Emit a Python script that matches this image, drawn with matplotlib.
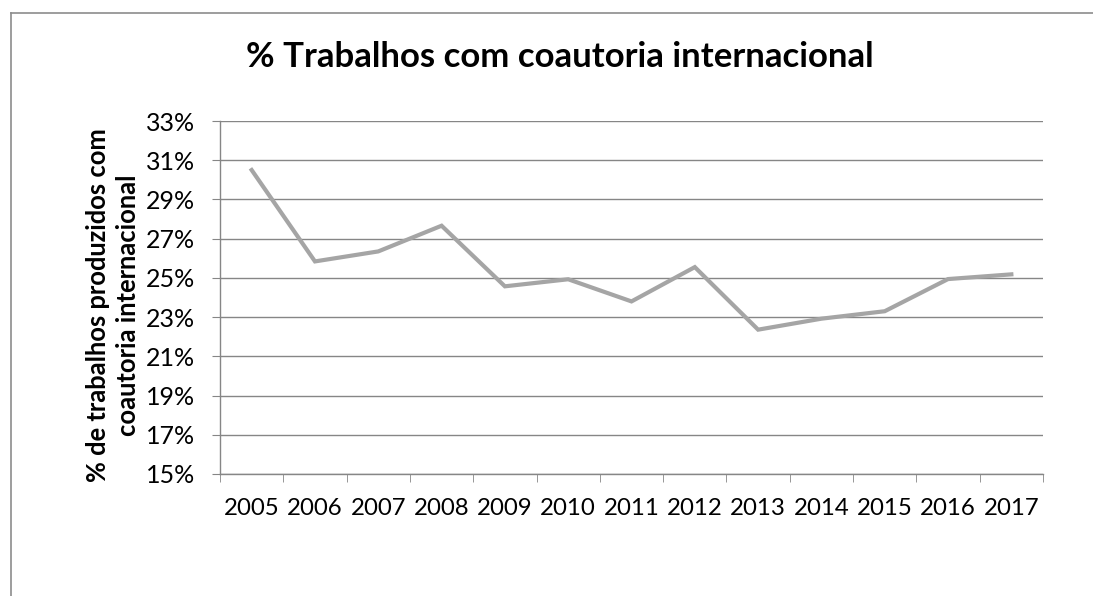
import matplotlib
matplotlib.use("Agg")
import matplotlib.pyplot as plt
import numpy as np
from matplotlib.lines import Line2D

anos = ["2005", "2006", "2007", "2008", "2009", "2010", "2011",
        "2012", "2013", "2014", "2015", "2016", "2017"]
pct = [30.5, 25.84, 26.35, 27.66, 24.57, 24.93, 23.8,
       25.55, 22.36, 22.92, 23.3, 24.94, 25.18]
yticks = [15, 17, 19, 21, 23, 25, 27, 29, 31, 33]

W, H = 1093, 596
plt.rcParams['font.family'] = ['Lato', 'DejaVu Sans']

fig = plt.figure(figsize=(W / 100, H / 100), dpi=100)
ax = fig.add_axes([220 / W, (H - 474) / H, 823 / W, 353 / H])

grid_c = "#868686"
x = np.arange(len(anos))
ax.plot(x, pct, color="#a5a5a5", lw=3, solid_joinstyle="miter", zorder=3)

ax.set_xlim(-0.5, len(anos) - 0.5)
ax.set_ylim(15, 33)
ax.set_yticks(yticks)
ax.set_yticklabels([f"{v}%" for v in yticks])
ax.set_xticks(x)
ax.set_xticklabels(anos)
ax.set_xticks(np.arange(-0.5, len(anos)), minor=True)
ax.tick_params(axis="x", which="major", length=0, pad=17, labelsize=17.3)
ax.tick_params(axis="x", which="minor", length=6, color=grid_c, direction="out")
ax.tick_params(axis="y", length=6, color=grid_c, pad=12, labelsize=18)

ax.grid(axis="y", color=grid_c, lw=1)
ax.set_axisbelow(True)
for s in ["top", "right"]:
    ax.spines[s].set_visible(False)
for s in ["left", "bottom"]:
    ax.spines[s].set_color(grid_c)
    ax.spines[s].set_linewidth(1)

ax.set_ylabel("% de trabalhos produzidos com\ncoautoria internacional",
              fontsize=18.4, fontweight="bold", linespacing=1.3)
ax.yaxis.set_label_coords((140 - 220) / 823, (474 - 305) / 353)

fig.text(560 / W, 1 - 57 / H, "% Trabalhos com coautoria internacional",
         ha="center", va="center", fontsize=25, fontweight="bold")

# moldura do gráfico
fig.add_artist(Line2D([11 / W, 1.0], [1 - 13 / H, 1 - 13 / H],
                      transform=fig.transFigure, color="#8c8c8c", lw=1.2))
fig.add_artist(Line2D([11 / W, 11 / W], [0.0, 1 - 13 / H],
                      transform=fig.transFigure, color="#8c8c8c", lw=1.2))

fig.savefig("out.png", dpi=100)
